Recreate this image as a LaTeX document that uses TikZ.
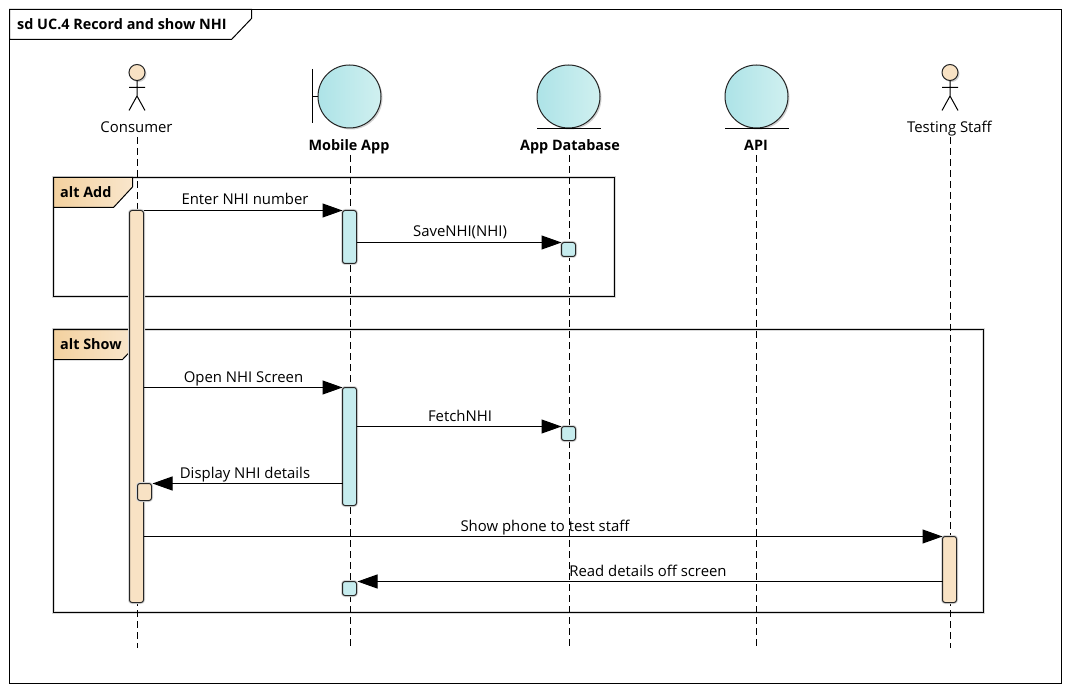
\documentclass[tikz,border=0pt]{standalone}
\usepackage{fontspec}
\setmainfont{Open Sans}
\usetikzlibrary{arrows.meta,calc}
\definecolor{peach}{HTML}{F8E2C4}
\definecolor{aqua}{HTML}{C6ECEE}
\definecolor{tabL}{HTML}{F3D19F}
\definecolor{tabR}{HTML}{F9E6CC}
\definecolor{ballL}{HTML}{ADE3E7}
\definecolor{ballR}{HTML}{D0F0F0}
\tikzset{
  txt/.style={font=\fontsize{14.9}{17}\selectfont,inner sep=0pt,text=black,anchor=base},
  heading/.style={txt,font=\fontsize{14.4}{17}\selectfont\bfseries},
  lifeline/.style={draw=black,line width=1pt,dash pattern=on 7pt off 4pt},
  msg/.style={draw=black,line width=1pt,-{Triangle[length=20pt,width=14pt]}},
  barbase/.style={draw=black!85,line width=1pt,rounded corners=2.5pt,minimum width=14pt,inner sep=0pt,outer sep=0pt,preaction={draw=black!15,line width=3pt}},
  peachbar/.style={barbase,fill=peach},
  aquabar/.style={barbase,fill=aqua},
  ball/.style={circle,draw=black!85,line width=1pt,minimum size=63pt,inner sep=0pt,outer sep=0pt,left color=ballL,right color=ballR},
  ballshadow/.style={circle,fill=black!18,minimum size=63pt,inner sep=0pt},
  headshadow/.style={circle,fill=black!18,minimum size=16pt,inner sep=0pt},
  actorhead/.style={circle,draw=black!85,line width=1pt,fill=peach,minimum size=16pt,inner sep=0pt,outer sep=0pt},
  frameline/.style={draw=black,line width=1pt},
  altframe/.style={frameline,preaction={draw=black!15,line width=3pt}},
  stick/.style={draw=black,line width=1pt},
}
\begin{document}
\begin{tikzpicture}[x=1pt,y=-1pt]
\useasboundingbox (0,0) rectangle (1070,692);
% outer frame
\draw[frameline,fill=white] (9.5,9.5) rectangle (1061.5,683.5);
\draw[frameline,fill=white] (9.5,39.5) -- (231.5,39.5) -- (251.5,18.5) -- (251.5,9.5) -- (9.5,9.5) -- cycle;
\node[heading,anchor=base west] (title) at (17,30) {sd UC.4 Record and show NHI};

% fragments
\draw[altframe] (53.5,177.5) rectangle (614.5,296.5);
\draw[frameline,left color=tabL,right color=tabR] (53.5,207.5) -- (113.5,207.5) -- (132.5,187) -- (132.5,177.5) -- (53.5,177.5) -- cycle;
\node[heading,anchor=base west] (altadd) at (60,197.7) {alt Add};
\draw[altframe] (53.5,329.5) rectangle (983.5,612.5);
\draw[frameline,left color=tabL,right color=tabR] (53.5,359.5) -- (122.5,359.5) -- (132.5,349) -- (132.5,329.5) -- (53.5,329.5) -- cycle;
\node[heading,anchor=base west] (altshow) at (60,349) {alt Show};

% consumer actor
\node[headshadow] at (138.5,74) {};
\node[actorhead] (chead) at (137,72.5) {};
\coordinate (chip) at (137,96);
\draw[stick] (chead.south) -- (chip) (129,87.5) -- (145,87.5) (129,110.5) -- (chip) -- (145,110.5);
\node[txt] (clabel) at (136.5,132.7) {Consumer};

% testing staff actor
\node[headshadow] at (951.5,74) {};
\node[actorhead] (thead) at (950,72.5) {};
\coordinate (thip) at (950,96);
\draw[stick] (thead.south) -- (thip) (942,87.5) -- (958,87.5) (942,110.5) -- (thip) -- (958,110.5);
\node[txt] (tlabel) at (949.5,132.7) {Testing Staff};

% mobile app boundary
\node[ballshadow] at (351,98) {};
\node[ball] (mball) at (349.5,96.5) {};
\draw[stick] (312.5,69) -- (312.5,123);
\draw[stick] (312.5,96.5) -- (mball.west);
\node[heading] (mlabel) at (349,151) {Mobile App};

% app database entity
\node[ballshadow] at (570,98) {};
\node[ball] (dball) at (568.5,96.5) {};
\draw[stick] (537,128.5) -- (601,128.5);
\node[heading] (dlabel) at (570,151) {App Database};

% API entity
\node[ballshadow] at (758,98) {};
\node[ball] (aball) at (756.5,96.5) {};
\draw[stick] (725,128.5) -- (789,128.5);
\node[heading] (alabel) at (756,151) {API};

% lifelines
\coordinate (ctop) at (137.5,137);
\coordinate (mtop) at (350.5,155);
\coordinate (dtop) at (569.5,155);
\coordinate (atop) at (756.5,155);
\coordinate (ttop) at (950.5,137);
\coordinate (cend) at (137.5,647.5);
\coordinate (mend) at (350.5,647.5);
\coordinate (dend) at (569.5,647.5);
\coordinate (aend) at (756.5,647.5);
\coordinate (tend) at (950.5,647.5);
\draw[lifeline] (ctop) -- (cend);
\draw[lifeline] (mtop) -- (mend);
\draw[lifeline] (dtop) -- (dend);
\draw[lifeline] (atop) -- (aend);
\draw[lifeline] (ttop) -- (tend);

% activations
\node[peachbar,minimum height=392pt] (cbar) at (136.5,406.5) {};
\node[peachbar,minimum height=17pt] (csmall) at (144.5,492) {};
\node[aquabar,minimum height=53pt] (mbar1) at (349.5,237) {};
\node[aquabar,minimum height=118pt] (mbar2) at (349.5,446.5) {};
\node[aquabar,minimum height=14pt] (msmall) at (349.5,588.5) {};
\node[aquabar,minimum height=14pt] (dbar1) at (568.5,249.5) {};
\node[aquabar,minimum height=14pt] (dbar2) at (568.5,433.5) {};
\node[peachbar,minimum height=66pt] (tbar) at (949.5,569.5) {};

% messages
\coordinate (m1) at (0,210.5);
\coordinate (m2) at (0,242.5);
\coordinate (m3) at (0,387.5);
\coordinate (m4) at (0,426.5);
\coordinate (m5) at (0,483.5);
\coordinate (m6) at (0,536.5);
\coordinate (m7) at (0,581.5);
\draw[msg] (cbar.east |- m1) -- (mbar1.west |- m1);
\draw[msg] (mbar1.east |- m2) -- (dbar1.west |- m2);
\draw[msg] (cbar.east |- m3) -- (mbar2.west |- m3);
\draw[msg] (mbar2.east |- m4) -- (dbar2.west |- m4);
\draw[msg] (mbar2.west |- m5) -- ($(csmall.east |- m5)+(1,0)$);
\draw[msg] (cbar.east |- m6) -- (tbar.west |- m6);
\draw[msg] (tbar.west |- m7) -- ($(msmall.east |- m7)+(1,0)$);

\node[txt] (l1) at (245,205) {Enter NHI number};
\node[txt] (l2) at (460,237) {SaveNHI(NHI)};
\node[txt] (l3) at (243.5,382) {Open NHI Screen};
\node[txt] (l4) at (460,421) {FetchNHI};
\node[txt] (l5) at (245,478) {Display NHI details};
\node[txt] (l6) at (545,531) {Show phone to test staff};
\node[txt] (l7) at (648,576) {Read details off screen};
\end{tikzpicture}
\end{document}
